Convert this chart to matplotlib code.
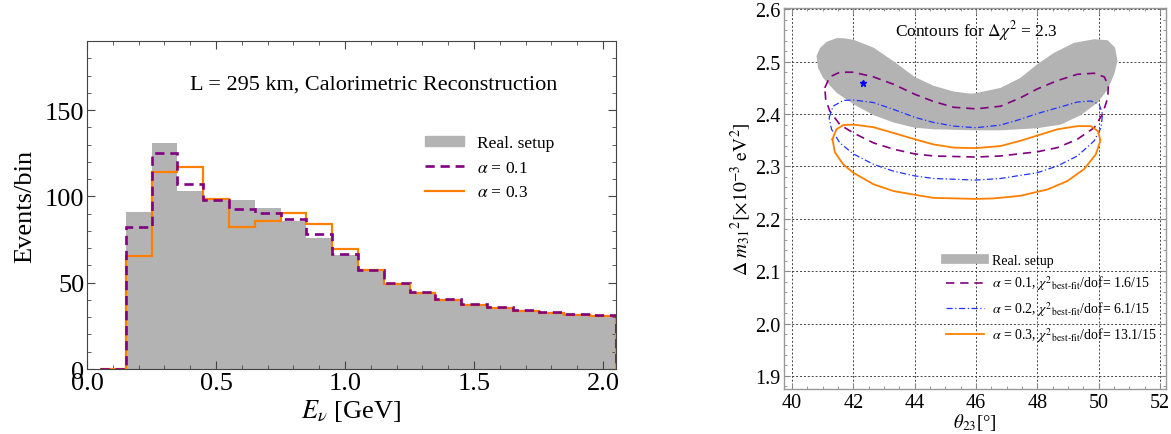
import numpy as np
import matplotlib
matplotlib.use('Agg')
import matplotlib.pyplot as plt
from matplotlib.lines import Line2D
from matplotlib.patches import Patch
from matplotlib.ticker import MultipleLocator, FormatStrFormatter

plt.rcParams['font.family'] = ['Liberation Serif', 'DejaVu Serif']
plt.rcParams['mathtext.fontset'] = 'stix'

# left panel: event histogram, bins of 0.1 GeV starting at 0.05
bin_edges = [0.05, 0.15, 0.25, 0.35, 0.45, 0.55, 0.65, 0.75, 0.85, 0.95, 1.05,
             1.15, 1.25, 1.35, 1.45, 1.55, 1.65, 1.75, 1.85, 1.95, 2.05]
events_real = [0, 91, 131, 103, 99, 98, 93, 86, 76, 66, 57,
               50, 44.5, 40.5, 37.5, 35.8, 34, 33, 32, 31]
events_a01 = [0, 82, 125, 107, 98, 92.5, 90.5, 87, 78, 66.5, 57.5,
              49.6, 44.4, 40.5, 37.5, 35.8, 34, 33, 31.8, 31]
events_a03 = [0, 65.5, 114, 117, 98.5, 82, 86, 90.5, 84, 69.5, 57.5,
              49.5, 44, 40, 37, 35.3, 33.5, 32.5, 31.3, 30.5]

# right panel: delta chi^2 = 2.3 contours (theta23 [deg], dm31^2 [1e-3 eV^2])
real_th = [40.80, 40.91, 41.13, 41.45, 41.67, 42.00, 42.66, 43.31, 44.00, 44.62, 45.28,
           45.83, 46.00, 46.80, 47.45, 48.00, 48.55, 49.20, 49.86, 50.30, 50.54, 50.62,
           50.51, 50.30, 49.97, 49.42, 48.77, 48.00, 46.80, 46.00, 44.62, 44.00, 43.31,
           42.66, 42.00, 41.45, 41.23, 41.02, 40.85]
real_dm = [2.511, 2.526, 2.538, 2.545, 2.545, 2.542, 2.527, 2.501, 2.471, 2.454, 2.443,
           2.439, 2.440, 2.450, 2.469, 2.495, 2.517, 2.536, 2.543, 2.541, 2.527, 2.501,
           2.476, 2.447, 2.422, 2.398, 2.380, 2.373, 2.369, 2.369, 2.371, 2.374, 2.384,
           2.398, 2.419, 2.441, 2.455, 2.469, 2.488]

a01_th = [41.07, 41.23, 41.56, 42.00, 42.66, 43.31, 44.00, 44.62, 45.28, 46.00, 46.80,
          47.45, 48.00, 48.66, 49.31, 49.86, 50.19, 50.32, 50.30, 50.13, 49.86, 49.31,
          48.66, 48.00, 46.80, 46.00, 44.62, 44.00, 43.31, 42.66, 42.00, 41.56, 41.23, 41.10]
a01_dm = [2.450, 2.471, 2.480, 2.480, 2.471, 2.457, 2.438, 2.424, 2.413, 2.410, 2.415,
          2.431, 2.448, 2.464, 2.476, 2.478, 2.471, 2.454, 2.431, 2.400, 2.374, 2.352,
          2.336, 2.328, 2.320, 2.318, 2.320, 2.324, 2.333, 2.345, 2.364, 2.380, 2.406, 2.428]

a02_th = [41.21, 41.34, 41.67, 42.00, 42.66, 43.31, 44.00, 44.62, 45.28, 46.00, 46.80,
          47.45, 48.00, 48.66, 49.31, 49.75, 50.02, 50.13, 50.08, 49.86, 49.31, 48.66,
          48.00, 46.80, 46.00, 44.62, 44.00, 43.31, 42.66, 42.00, 41.56, 41.29]
a02_dm = [2.393, 2.415, 2.426, 2.427, 2.422, 2.409, 2.394, 2.384, 2.377, 2.374, 2.379,
          2.390, 2.401, 2.412, 2.423, 2.425, 2.419, 2.400, 2.374, 2.349, 2.320, 2.301,
          2.288, 2.277, 2.274, 2.277, 2.282, 2.291, 2.304, 2.324, 2.345, 2.371]

a03_th = [41.32, 41.45, 41.67, 42.00, 42.66, 43.31, 44.00, 44.62, 45.28, 46.00, 46.80,
          47.45, 48.00, 48.66, 49.31, 49.75, 49.99, 50.06, 49.91, 49.53, 48.98, 48.33,
          47.45, 46.58, 46.00, 44.62, 44.00, 43.31, 42.66, 42.00, 41.67, 41.40]
a03_dm = [2.352, 2.371, 2.379, 2.380, 2.375, 2.364, 2.352, 2.342, 2.336, 2.335, 2.339,
          2.349, 2.359, 2.371, 2.377, 2.377, 2.367, 2.349, 2.323, 2.295, 2.272, 2.256,
          2.244, 2.239, 2.238, 2.240, 2.246, 2.253, 2.266, 2.288, 2.304, 2.327]

best_fit = (42.3, 2.46)

GRAY = '#b3b3b3'
PURPLE = '#800080'
ORANGE = '#ff8000'
BLUE = '#2233ff'

fig = plt.figure(figsize=(11.71, 4.35), dpi=100)

# ---------------- left panel ----------------
ax1 = fig.add_axes([0.0743, 0.1494, 0.4517, 0.754])
ax1.stairs(events_real, bin_edges, fill=True, color=GRAY)
ax1.stairs(events_a01, bin_edges, color=PURPLE, lw=1.9, linestyle=(0, (3.5, 2.2)), zorder=4)
ax1.stairs(events_a03, bin_edges, color=ORANGE, lw=1.6, zorder=3)
ax1.set_xlim(0, 2.05)
ax1.set_ylim(0, 190)
ax1.xaxis.set_major_locator(MultipleLocator(0.5))
ax1.xaxis.set_minor_locator(MultipleLocator(0.1))
ax1.xaxis.set_major_formatter(FormatStrFormatter('%.1f'))
ax1.yaxis.set_major_locator(MultipleLocator(50))
ax1.yaxis.set_minor_locator(MultipleLocator(10))
ax1.tick_params(which='both', direction='in', top=True, right=True, labelsize=19,
                color='#444444', pad=2)
ax1.tick_params(which='major', length=6)
ax1.tick_params(which='minor', length=3)
for s in ax1.spines.values():
    s.set_color('#444444')
    s.set_linewidth(0.8)
ax1.set_xlabel(r'$E_\nu$ [GeV]', fontsize=19, labelpad=2)
ax1.set_ylabel('Events/bin', fontsize=19, labelpad=6)
ax1.text(0.195, 0.87, 'L = 295 km, Calorimetric Reconstruction', transform=ax1.transAxes,
         fontsize=16, va='center', ha='left')
h1 = [Patch(color=GRAY),
      Line2D([], [], color=PURPLE, lw=1.9, linestyle=(0, (3.5, 2.2))),
      Line2D([], [], color=ORANGE, lw=1.6)]
ax1.legend(h1, ['Real. setup', r'$\alpha$ = 0.1', r'$\alpha$ = 0.3'], loc='upper left',
           bbox_to_anchor=(0.625, 0.735), frameon=False, fontsize=12.5, handlelength=2.3,
           handleheight=0.5, handletextpad=0.7, labelspacing=0.5, borderaxespad=0)

# ---------------- right panel ----------------
ax2 = fig.add_axes([0.6698, 0.1034, 0.3259, 0.8752])
ax2.fill(real_th, real_dm, color=GRAY, lw=0, zorder=2)
ax2.plot(a01_th + a01_th[:1], a01_dm + a01_dm[:1], color=PURPLE, lw=1.2,
         linestyle=(0, (5, 3.5)), zorder=3)
ax2.plot(a02_th + a02_th[:1], a02_dm + a02_dm[:1], color=BLUE, lw=0.9,
         linestyle=(0, (5, 2, 1, 2)), zorder=3)
ax2.plot(a03_th + a03_th[:1], a03_dm + a03_dm[:1], color=ORANGE, lw=1.3, zorder=3)
ax2.plot([best_fit[0]], [best_fit[1]], marker='*', color='blue', ms=5, ls='none', zorder=4)
ax2.set_xlim(39.75, 52.2)
ax2.set_ylim(1.875, 2.602)
ax2.xaxis.set_major_locator(MultipleLocator(2))
ax2.xaxis.set_minor_locator(MultipleLocator(0.5))
ax2.yaxis.set_major_locator(MultipleLocator(0.1))
ax2.yaxis.set_minor_locator(MultipleLocator(0.02))
ax2.yaxis.set_major_formatter(FormatStrFormatter('%.1f'))
ax2.tick_params(which='both', direction='in', top=True, right=True, labelsize=14.5,
                color='#888888', pad=3)
ax2.tick_params(which='major', length=4)
ax2.tick_params(which='minor', length=2)
ax2.grid(True, which='major', linestyle=(0, (2, 2)), color='#444444', lw=0.7, zorder=1)
ax2.set_axisbelow(True)
for s in ax2.spines.values():
    s.set_color('#999999')
    s.set_linewidth(1.0)
ax2.set_xlabel(r'$\theta_{23}$[°]', fontsize=13.5, labelpad=-1)
ax2.set_ylabel(r'$\Delta\ m_{31}{}^{2}[\times 10^{-3}\ \mathrm{eV}^{2}]$', fontsize=14,
               labelpad=1)
ax2.text(46.0, 2.56, r'Contours for $\Delta\chi^2$ = 2.3', fontsize=12.5,
         ha='center', va='center')
h2 = [Line2D([], [], color=GRAY, lw=7),
      Line2D([], [], color=PURPLE, lw=1.2, linestyle=(0, (5, 3.5))),
      Line2D([], [], color=BLUE, lw=0.9, linestyle=(0, (5, 2, 1, 2))),
      Line2D([], [], color=ORANGE, lw=1.3)]
lab2 = ['Real. setup',
        r'$\alpha$ = 0.1, $\chi^2{}_{\text{best-fit}}$/dof= 1.6/15',
        r'$\alpha$ = 0.2, $\chi^2{}_{\text{best-fit}}$/dof= 6.1/15',
        r'$\alpha$ = 0.3, $\chi^2{}_{\text{best-fit}}$/dof= 13.1/15']
ax2.legend(h2, lab2, loc='upper left', bbox_to_anchor=(0.41, 0.37), frameon=False,
           fontsize=10, handlelength=2.7, handletextpad=0.6, labelspacing=0.5,
           borderaxespad=0)

fig.savefig('out.png', dpi=100)
